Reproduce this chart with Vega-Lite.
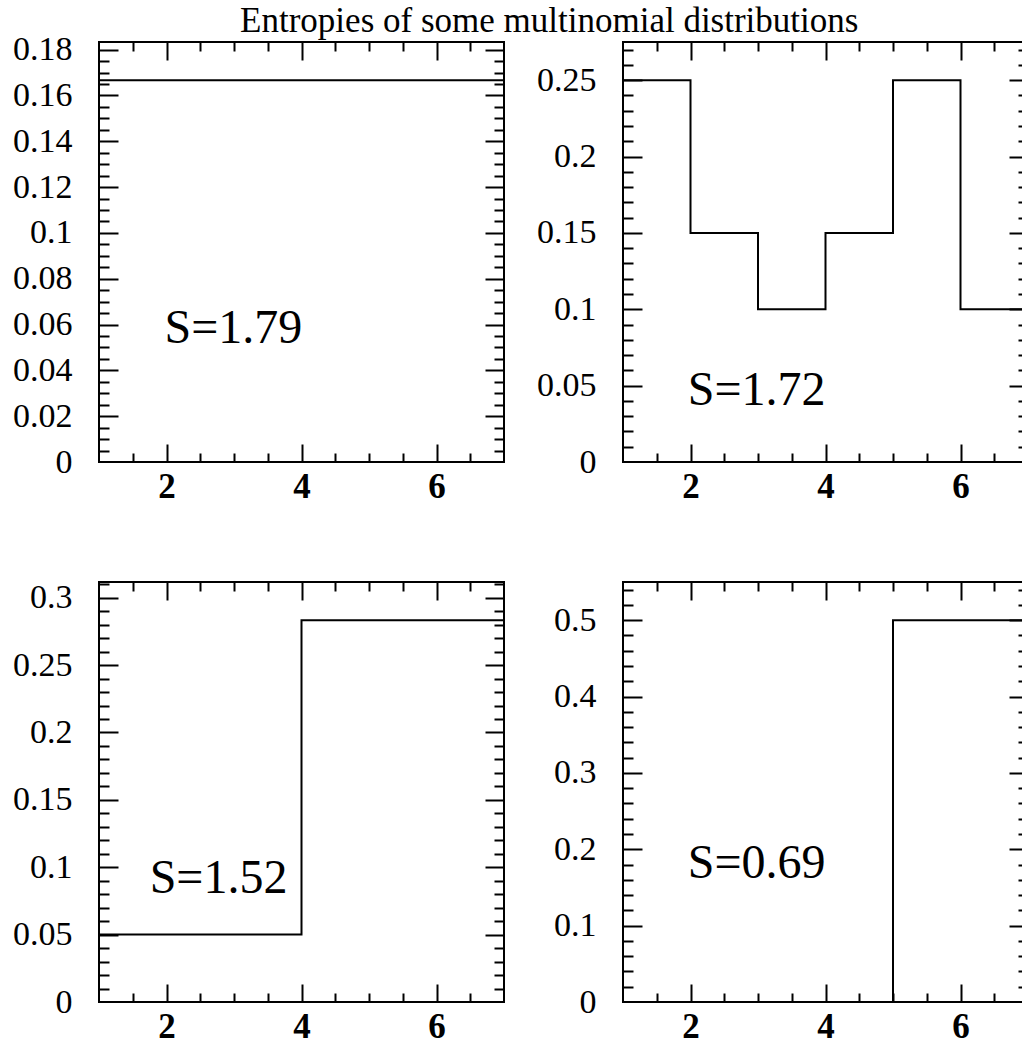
{
  "$schema": "https://vega.github.io/schema/vega-lite/v6.json",
  "padding": {"left": 11, "top": 3, "right": 0, "bottom": 6},
  "background": "white",
  "title": {"text": "Entropies of some multinomial distributions", "font": "Liberation Serif", "fontSize": 35, "fontWeight": "normal", "color": "black", "anchor": "middle", "frame": "bounds", "dx": 27, "baseline": "alphabetic", "offset": -35},
  "config": {
    "view": {"stroke": "black", "strokeWidth": 2},
    "axis": {"domain": false, "grid": false, "labelFont": "Liberation Serif", "labelColor": "black", "labelFontSize": 34, "tickColor": "black", "tickWidth": 2, "labelOverlap": false, "labelBound": false, "labelFlush": false, "title": null, "minExtent": 0, "maxExtent": 0}
  },
  "datasets": {
    "p1": [{"x": 1, "p": 0.16667}, {"x": 7, "p": 0.16667}],
    "p2": [{"x": 1, "p": 0.25}, {"x": 2, "p": 0.15}, {"x": 3, "p": 0.1}, {"x": 4, "p": 0.15}, {"x": 5, "p": 0.25}, {"x": 6, "p": 0.1}, {"x": 7, "p": 0.1}],
    "p3": [{"x": 1, "p": 0.05}, {"x": 2, "p": 0.05}, {"x": 3, "p": 0.05}, {"x": 4, "p": 0.28333}, {"x": 5, "p": 0.28333}, {"x": 6, "p": 0.28333}, {"x": 7, "p": 0.28333}],
    "p4": [{"x": 1, "p": 0}, {"x": 2, "p": 0}, {"x": 3, "p": 0}, {"x": 4, "p": 0}, {"x": 5, "p": 0.5}, {"x": 6, "p": 0.5}, {"x": 7, "p": 0.5}],
    "s1": [{"x": 1.97, "p": 0.0519, "label": "S=1.79"}],
    "s2": [{"x": 1.96, "p": 0.0372, "label": "S=1.72"}],
    "s3": [{"x": 1.75, "p": 0.0807, "label": "S=1.52"}],
    "s4": [{"x": 1.96, "p": 0.162, "label": "S=0.69"}]
  },
  "columns": 2,
  "spacing": {"row": 120, "column": 119},
  "bounds": "flush",
  "concat": [
    {
      "width": 405, "height": 420,
      "data": {"name": "p1"},
      "resolve": {"axis": {"x": "independent", "y": "independent"}},
      "layer": [
        {"mark": {"type": "line", "interpolate": "step-after", "color": "black", "strokeWidth": 2},
         "encoding": {
           "x": {"field": "x", "type": "quantitative", "scale": {"domain": [1, 7], "nice": false, "zero": false}, "axis": {"orient": "bottom", "values": [2, 4, 6], "ticks": false, "tickSize": 0, "labelPadding": 7, "labelFontWeight": "bold", "labelFontSize": 35}},
           "y": {"field": "p", "type": "quantitative", "scale": {"domain": [0, 0.18333], "nice": false}, "axis": {"orient": "left", "values": [0, 0.02, 0.04, 0.06, 0.08, 0.1, 0.12, 0.14, 0.16, 0.18], "ticks": false, "tickSize": 0, "labelPadding": 27, "format": "~g"}}}},
        {"mark": {"type": "line", "opacity": 0},
         "encoding": {
           "x": {"field": "x", "type": "quantitative", "axis": {"orient": "bottom", "values": [2, 4, 6], "labels": false, "tickSize": -18}},
           "y": {"field": "p", "type": "quantitative", "axis": {"orient": "left", "values": [0.02, 0.04, 0.06, 0.08, 0.1, 0.12, 0.14, 0.16, 0.18], "labels": false, "tickSize": -19}}}},
        {"mark": {"type": "line", "opacity": 0},
         "encoding": {
           "x": {"field": "x", "type": "quantitative", "axis": {"orient": "bottom", "values": [1.5, 2.5, 3, 3.5, 4.5, 5, 5.5, 6.5], "labels": false, "tickSize": -9}},
           "y": {"field": "p", "type": "quantitative", "axis": {"orient": "left", "values": [0.005, 0.01, 0.015, 0.025, 0.03, 0.035, 0.045, 0.05, 0.055, 0.065, 0.07, 0.075, 0.085, 0.09, 0.095, 0.105, 0.11, 0.115, 0.125, 0.13, 0.135, 0.145, 0.15, 0.155, 0.165, 0.17, 0.175], "labels": false, "tickSize": -10}}}},
        {"mark": {"type": "line", "opacity": 0},
         "encoding": {
           "x": {"field": "x", "type": "quantitative", "axis": {"orient": "top", "values": [2, 4, 6], "labels": false, "tickSize": -18}},
           "y": {"field": "p", "type": "quantitative", "axis": {"orient": "right", "values": [0.02, 0.04, 0.06, 0.08, 0.1, 0.12, 0.14, 0.16, 0.18], "labels": false, "tickSize": -19}}}},
        {"mark": {"type": "line", "opacity": 0},
         "encoding": {
           "x": {"field": "x", "type": "quantitative", "axis": {"orient": "top", "values": [1.5, 2.5, 3, 3.5, 4.5, 5, 5.5, 6.5], "labels": false, "tickSize": -9}},
           "y": {"field": "p", "type": "quantitative", "axis": {"orient": "right", "values": [0.005, 0.01, 0.015, 0.025, 0.03, 0.035, 0.045, 0.05, 0.055, 0.065, 0.07, 0.075, 0.085, 0.09, 0.095, 0.105, 0.11, 0.115, 0.125, 0.13, 0.135, 0.145, 0.15, 0.155, 0.165, 0.17, 0.175], "labels": false, "tickSize": -10}}}},
        {"data": {"name": "s1"},
         "mark": {"type": "text", "font": "Liberation Serif", "fontSize": 48, "align": "left", "baseline": "alphabetic", "color": "black"},
         "encoding": {"x": {"field": "x", "type": "quantitative", "axis": null}, "y": {"field": "p", "type": "quantitative", "axis": null}, "text": {"field": "label"}}}
      ]
    },
    {
      "width": 405, "height": 420,
      "data": {"name": "p2"},
      "resolve": {"axis": {"x": "independent", "y": "independent"}},
      "layer": [
        {"mark": {"type": "line", "interpolate": "step-after", "color": "black", "strokeWidth": 2},
         "encoding": {
           "x": {"field": "x", "type": "quantitative", "scale": {"domain": [1, 7], "nice": false, "zero": false}, "axis": {"orient": "bottom", "values": [2, 4, 6], "ticks": false, "tickSize": 0, "labelPadding": 7, "labelFontWeight": "bold", "labelFontSize": 35}},
           "y": {"field": "p", "type": "quantitative", "scale": {"domain": [0, 0.275], "nice": false}, "axis": {"orient": "left", "values": [0, 0.05, 0.1, 0.15, 0.2, 0.25], "ticks": false, "tickSize": 0, "labelPadding": 27, "format": "~g"}}}},
        {"mark": {"type": "line", "opacity": 0},
         "encoding": {
           "x": {"field": "x", "type": "quantitative", "axis": {"orient": "bottom", "values": [2, 4, 6], "labels": false, "tickSize": -18}},
           "y": {"field": "p", "type": "quantitative", "axis": {"orient": "left", "values": [0.05, 0.1, 0.15, 0.2, 0.25], "labels": false, "tickSize": -19}}}},
        {"mark": {"type": "line", "opacity": 0},
         "encoding": {
           "x": {"field": "x", "type": "quantitative", "axis": {"orient": "bottom", "values": [1.5, 2.5, 3, 3.5, 4.5, 5, 5.5, 6.5], "labels": false, "tickSize": -9}},
           "y": {"field": "p", "type": "quantitative", "axis": {"orient": "left", "values": [0.01, 0.02, 0.03, 0.04, 0.06, 0.07, 0.08, 0.09, 0.11, 0.12, 0.13, 0.14, 0.16, 0.17, 0.18, 0.19, 0.21, 0.22, 0.23, 0.24, 0.26, 0.27], "labels": false, "tickSize": -10}}}},
        {"mark": {"type": "line", "opacity": 0},
         "encoding": {
           "x": {"field": "x", "type": "quantitative", "axis": {"orient": "top", "values": [2, 4, 6], "labels": false, "tickSize": -18}},
           "y": {"field": "p", "type": "quantitative", "axis": {"orient": "right", "values": [0.05, 0.1, 0.15, 0.2, 0.25], "labels": false, "tickSize": -19}}}},
        {"mark": {"type": "line", "opacity": 0},
         "encoding": {
           "x": {"field": "x", "type": "quantitative", "axis": {"orient": "top", "values": [1.5, 2.5, 3, 3.5, 4.5, 5, 5.5, 6.5], "labels": false, "tickSize": -9}},
           "y": {"field": "p", "type": "quantitative", "axis": {"orient": "right", "values": [0.01, 0.02, 0.03, 0.04, 0.06, 0.07, 0.08, 0.09, 0.11, 0.12, 0.13, 0.14, 0.16, 0.17, 0.18, 0.19, 0.21, 0.22, 0.23, 0.24, 0.26, 0.27], "labels": false, "tickSize": -10}}}},
        {"data": {"name": "s2"},
         "mark": {"type": "text", "font": "Liberation Serif", "fontSize": 48, "align": "left", "baseline": "alphabetic", "color": "black"},
         "encoding": {"x": {"field": "x", "type": "quantitative", "axis": null}, "y": {"field": "p", "type": "quantitative", "axis": null}, "text": {"field": "label"}}}
      ]
    },
    {
      "width": 405, "height": 420,
      "data": {"name": "p3"},
      "resolve": {"axis": {"x": "independent", "y": "independent"}},
      "layer": [
        {"mark": {"type": "line", "interpolate": "step-after", "color": "black", "strokeWidth": 2},
         "encoding": {
           "x": {"field": "x", "type": "quantitative", "scale": {"domain": [1, 7], "nice": false, "zero": false}, "axis": {"orient": "bottom", "values": [2, 4, 6], "ticks": false, "tickSize": 0, "labelPadding": 7, "labelFontWeight": "bold", "labelFontSize": 35}},
           "y": {"field": "p", "type": "quantitative", "scale": {"domain": [0, 0.31167], "nice": false}, "axis": {"orient": "left", "values": [0, 0.05, 0.1, 0.15, 0.2, 0.25, 0.3], "ticks": false, "tickSize": 0, "labelPadding": 27, "format": "~g"}}}},
        {"mark": {"type": "line", "opacity": 0},
         "encoding": {
           "x": {"field": "x", "type": "quantitative", "axis": {"orient": "bottom", "values": [2, 4, 6], "labels": false, "tickSize": -18}},
           "y": {"field": "p", "type": "quantitative", "axis": {"orient": "left", "values": [0.05, 0.1, 0.15, 0.2, 0.25, 0.3], "labels": false, "tickSize": -19}}}},
        {"mark": {"type": "line", "opacity": 0},
         "encoding": {
           "x": {"field": "x", "type": "quantitative", "axis": {"orient": "bottom", "values": [1.5, 2.5, 3, 3.5, 4.5, 5, 5.5, 6.5], "labels": false, "tickSize": -9}},
           "y": {"field": "p", "type": "quantitative", "axis": {"orient": "left", "values": [0.01, 0.02, 0.03, 0.04, 0.06, 0.07, 0.08, 0.09, 0.11, 0.12, 0.13, 0.14, 0.16, 0.17, 0.18, 0.19, 0.21, 0.22, 0.23, 0.24, 0.26, 0.27, 0.28, 0.29, 0.31], "labels": false, "tickSize": -10}}}},
        {"mark": {"type": "line", "opacity": 0},
         "encoding": {
           "x": {"field": "x", "type": "quantitative", "axis": {"orient": "top", "values": [2, 4, 6], "labels": false, "tickSize": -18}},
           "y": {"field": "p", "type": "quantitative", "axis": {"orient": "right", "values": [0.05, 0.1, 0.15, 0.2, 0.25, 0.3], "labels": false, "tickSize": -19}}}},
        {"mark": {"type": "line", "opacity": 0},
         "encoding": {
           "x": {"field": "x", "type": "quantitative", "axis": {"orient": "top", "values": [1.5, 2.5, 3, 3.5, 4.5, 5, 5.5, 6.5], "labels": false, "tickSize": -9}},
           "y": {"field": "p", "type": "quantitative", "axis": {"orient": "right", "values": [0.01, 0.02, 0.03, 0.04, 0.06, 0.07, 0.08, 0.09, 0.11, 0.12, 0.13, 0.14, 0.16, 0.17, 0.18, 0.19, 0.21, 0.22, 0.23, 0.24, 0.26, 0.27, 0.28, 0.29, 0.31], "labels": false, "tickSize": -10}}}},
        {"data": {"name": "s3"},
         "mark": {"type": "text", "font": "Liberation Serif", "fontSize": 48, "align": "left", "baseline": "alphabetic", "color": "black"},
         "encoding": {"x": {"field": "x", "type": "quantitative", "axis": null}, "y": {"field": "p", "type": "quantitative", "axis": null}, "text": {"field": "label"}}}
      ]
    },
    {
      "width": 405, "height": 420,
      "data": {"name": "p4"},
      "resolve": {"axis": {"x": "independent", "y": "independent"}},
      "layer": [
        {"mark": {"type": "line", "interpolate": "step-after", "color": "black", "strokeWidth": 2},
         "encoding": {
           "x": {"field": "x", "type": "quantitative", "scale": {"domain": [1, 7], "nice": false, "zero": false}, "axis": {"orient": "bottom", "values": [2, 4, 6], "ticks": false, "tickSize": 0, "labelPadding": 7, "labelFontWeight": "bold", "labelFontSize": 35}},
           "y": {"field": "p", "type": "quantitative", "scale": {"domain": [0, 0.55], "nice": false}, "axis": {"orient": "left", "values": [0, 0.1, 0.2, 0.3, 0.4, 0.5], "ticks": false, "tickSize": 0, "labelPadding": 27, "format": "~g"}}}},
        {"mark": {"type": "line", "opacity": 0},
         "encoding": {
           "x": {"field": "x", "type": "quantitative", "axis": {"orient": "bottom", "values": [2, 4, 6], "labels": false, "tickSize": -18}},
           "y": {"field": "p", "type": "quantitative", "axis": {"orient": "left", "values": [0.1, 0.2, 0.3, 0.4, 0.5], "labels": false, "tickSize": -19}}}},
        {"mark": {"type": "line", "opacity": 0},
         "encoding": {
           "x": {"field": "x", "type": "quantitative", "axis": {"orient": "bottom", "values": [1.5, 2.5, 3, 3.5, 4.5, 5, 5.5, 6.5], "labels": false, "tickSize": -9}},
           "y": {"field": "p", "type": "quantitative", "axis": {"orient": "left", "values": [0.02, 0.04, 0.06, 0.08, 0.12, 0.14, 0.16, 0.18, 0.22, 0.24, 0.26, 0.28, 0.32, 0.34, 0.36, 0.38, 0.42, 0.44, 0.46, 0.48, 0.52, 0.54], "labels": false, "tickSize": -10}}}},
        {"mark": {"type": "line", "opacity": 0},
         "encoding": {
           "x": {"field": "x", "type": "quantitative", "axis": {"orient": "top", "values": [2, 4, 6], "labels": false, "tickSize": -18}},
           "y": {"field": "p", "type": "quantitative", "axis": {"orient": "right", "values": [0.1, 0.2, 0.3, 0.4, 0.5], "labels": false, "tickSize": -19}}}},
        {"mark": {"type": "line", "opacity": 0},
         "encoding": {
           "x": {"field": "x", "type": "quantitative", "axis": {"orient": "top", "values": [1.5, 2.5, 3, 3.5, 4.5, 5, 5.5, 6.5], "labels": false, "tickSize": -9}},
           "y": {"field": "p", "type": "quantitative", "axis": {"orient": "right", "values": [0.02, 0.04, 0.06, 0.08, 0.12, 0.14, 0.16, 0.18, 0.22, 0.24, 0.26, 0.28, 0.32, 0.34, 0.36, 0.38, 0.42, 0.44, 0.46, 0.48, 0.52, 0.54], "labels": false, "tickSize": -10}}}},
        {"data": {"name": "s4"},
         "mark": {"type": "text", "font": "Liberation Serif", "fontSize": 48, "align": "left", "baseline": "alphabetic", "color": "black"},
         "encoding": {"x": {"field": "x", "type": "quantitative", "axis": null}, "y": {"field": "p", "type": "quantitative", "axis": null}, "text": {"field": "label"}}}
      ]
    }
  ]
}
